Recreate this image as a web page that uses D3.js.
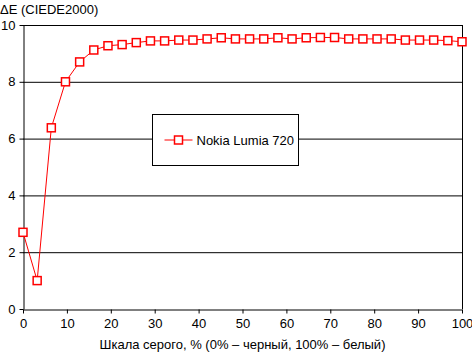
<!DOCTYPE html>
<html>
<head>
<meta charset="utf-8">
<script src="https://cdn.jsdelivr.net/npm/d3@7"></script>
<style>
  body { margin: 0; background: #fff; }
  svg { font-family: "Liberation Sans", Arial, sans-serif; }
</style>
</head>
<body>
<div id="chart"></div>
<script>
// values
var seriesName = "Nokia Lumia 720";
var deltaE = [2.7, 1.0, 6.38, 8.0, 8.7, 9.12, 9.27, 9.31, 9.38, 9.44, 9.44, 9.47, 9.47, 9.51, 9.55, 9.51,
              9.51, 9.51, 9.55, 9.51, 9.55, 9.56, 9.56, 9.51, 9.51, 9.51, 9.51, 9.47, 9.47, 9.47, 9.45, 9.41];
var xTicks = [0, 10, 20, 30, 40, 50, 60, 70, 80, 90, 100];
var yTicks = [0, 2, 4, 6, 8, 10];
var yTitle = "ΔE (CIEDE2000)";
var xTitle = "Шкала серого, % (0% – черный, 100% – белый)";

var margin = {top: 25, right: 10, bottom: 43, left: 23},
  width = 472 - margin.left - margin.right,
  height = 352 - margin.top - margin.bottom;

var svg = d3.select("#chart")
.append("svg")
  .attr("width", 472)
  .attr("height", 352)
.append("g")
  .attr("transform", "translate(" + margin.left + "," + margin.top + ")");

var x = d3.scaleLinear().domain([0, 100]).range([0, width]);
var y = d3.scaleLinear().domain([0, 10]).range([height, 0]);

// gridlines
svg.selectAll(".grid")
  .data(yTicks.filter(function(d) { return d > 0; }))
  .enter().append("line")
    .attr("x1", 0).attr("x2", width)
    .attr("y1", function(d) { return y(d) + 0.5; })
    .attr("y2", function(d) { return y(d) + 0.5; })
    .attr("stroke", "#000");

// right border
svg.append("line")
  .attr("x1", width + 0.5).attr("x2", width + 0.5)
  .attr("y1", 0).attr("y2", height)
  .attr("stroke", "#000");

// axes
var xAxis = svg.append("g")
  .attr("transform", "translate(0," + (height + 0.5) + ")")
  .call(d3.axisBottom(x).tickValues(xTicks).tickSize(4).tickSizeOuter(0));
var yAxis = svg.append("g")
  .attr("transform", "translate(0.5,0)")
  .call(d3.axisLeft(y).tickValues(yTicks).tickSize(4).tickSizeOuter(0));

[xAxis, yAxis].forEach(function(a) {
  a.select(".domain").attr("stroke", "#000");
  a.selectAll(".tick line").attr("stroke", "#000");
  a.selectAll("text").attr("fill", "#000").style("font-size", "13px")
    .style("font-family", "Liberation Sans, Arial, sans-serif");
});
xAxis.selectAll("text").attr("dy", "0.71em").attr("y", 9);
yAxis.selectAll("text").attr("x", -8);

// titles
svg.append("text")
  .attr("x", -margin.left)
  .attr("y", -11)
  .style("font-size", "13px")
  .text(yTitle);

svg.append("text")
  .attr("x", width / 2)
  .attr("y", height + 40)
  .attr("text-anchor", "middle")
  .style("font-size", "13px")
  .text(xTitle);

// series
var step = 100 / (deltaE.length - 1);
var line = d3.line()
  .x(function(d, i) { return x(i * step); })
  .y(function(d) { return y(d); });

svg.append("path")
  .datum(deltaE)
  .attr("fill", "none")
  .attr("stroke", "#ff0000")
  .attr("stroke-width", 1)
  .attr("d", line);

svg.selectAll(".pt")
  .data(deltaE)
  .enter().append("rect")
    .attr("x", function(d, i) { return x(i * step) - 4; })
    .attr("y", function(d) { return y(d) - 4; })
    .attr("width", 8)
    .attr("height", 8)
    .attr("fill", "#fff")
    .attr("stroke", "#ff0000")
    .attr("stroke-width", 1.5);

// legend
var legend = svg.append("g")
  .attr("transform", "translate(" + (152.5 - margin.left) + "," + (114.5 - margin.top) + ")");
legend.append("rect")
  .attr("width", 146)
  .attr("height", 51)
  .attr("fill", "#fff")
  .attr("stroke", "#000");
legend.append("line")
  .attr("x1", 12).attr("x2", 40)
  .attr("y1", 25.5).attr("y2", 25.5)
  .attr("stroke", "#ff0000");
legend.append("rect")
  .attr("x", 22).attr("y", 21.5)
  .attr("width", 8).attr("height", 8)
  .attr("fill", "#fff")
  .attr("stroke", "#ff0000")
  .attr("stroke-width", 1.5);
legend.append("text")
  .attr("x", 44)
  .attr("y", 30)
  .style("font-size", "13px")
  .text(seriesName);
</script>
</body>
</html>
